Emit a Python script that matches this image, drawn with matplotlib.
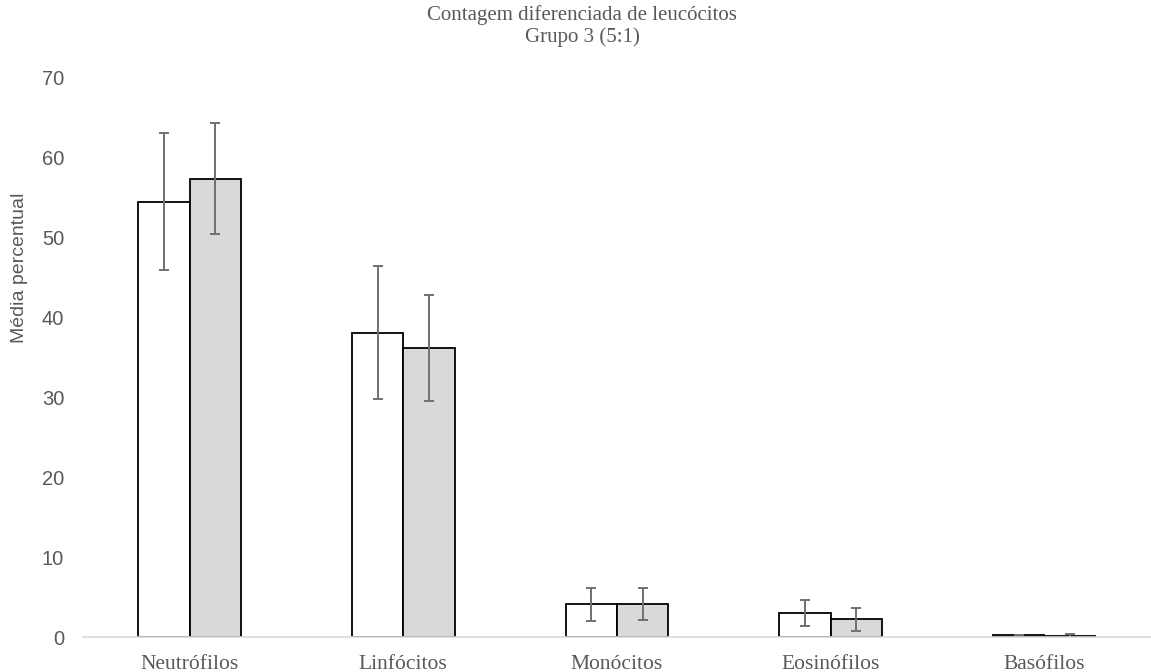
import matplotlib.pyplot as plt
import numpy as np

categories = ["Neutrófilos", "Linfócitos", "Monócitos", "Eosinófilos", "Basófilos"]
series_a = [54.5, 38.1, 4.1, 3.0, 0.2]
err_a = [8.6, 8.3, 2.1, 1.6, 0.0]
series_b = [57.4, 36.2, 4.1, 2.2, 0.1]
err_b = [6.9, 6.6, 2.0, 1.5, 0.3]
yticks = [0, 10, 20, 30, 40, 50, 60, 70]

fig = plt.figure(figsize=(11.51, 6.72), dpi=100)
ax = fig.add_axes([0.072, 0.052, 0.928, 0.832])

x = np.arange(len(categories))
w = 0.24
txt = "#595959"
ekw = dict(ecolor="#707070", elinewidth=1.4, capsize=3.5, capthick=1.4)
ax.bar(x - w / 2, series_a, w, color="white", edgecolor="black", linewidth=1.3,
       yerr=err_a, error_kw=ekw, zorder=2)
ax.bar(x + w / 2, series_b, w, color="#d9d9d9", edgecolor="black", linewidth=1.3,
       yerr=err_b, error_kw=ekw, zorder=2)

ax.set_xlim(-0.5, 4.5)
ax.set_ylim(0, 70)
ax.set_yticks(yticks)
ax.set_xticks(x)
ax.set_xticklabels(categories, fontfamily="Liberation Serif", fontsize=15.5, color=txt)
for lab in ax.get_yticklabels():
    lab.set_fontfamily("Liberation Sans")
    lab.set_fontsize(14.5)
    lab.set_color(txt)
ax.tick_params(axis="both", length=0)
ax.tick_params(axis="x", pad=13)
ax.tick_params(axis="y", pad=13.5)
for s in ["top", "right", "left"]:
    ax.spines[s].set_visible(False)
ax.spines["bottom"].set_color("#d9d9d9")
ax.spines["bottom"].set_linewidth(1.2)

fig.text(20 / 1151, 1 - 268 / 672, "Média percentual", rotation=90, ha="center", va="center",
         fontfamily="Liberation Sans", fontsize=14, color=txt)

fig.text(582 / 1151, 1 - 26 / 672, "Contagem diferenciada de leucócitos\nGrupo 3 (5:1)", ha="center", va="center",
         fontfamily="Liberation Serif", fontsize=15, color=txt, linespacing=1.12)

fig.savefig("out.png", dpi=100)
